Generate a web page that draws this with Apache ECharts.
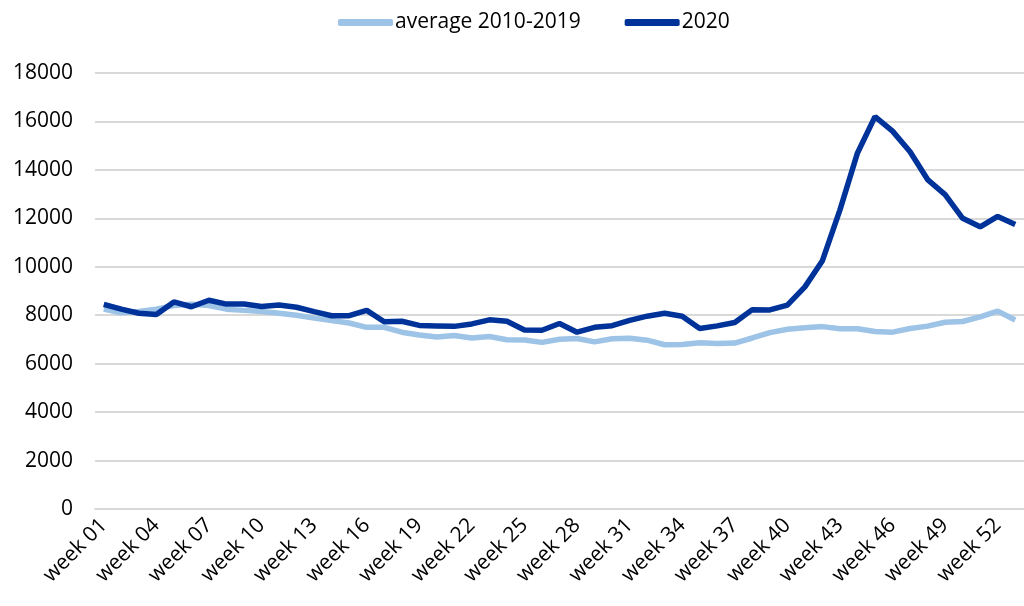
<!DOCTYPE html>
<html>
<head>
<meta charset="utf-8">
<script src="https://cdn.jsdelivr.net/npm/echarts@6/dist/echarts.min.js"></script>
<style>
html,body{margin:0;padding:0;background:#fff;}
#chart{width:1024px;height:606px;}
</style>
</head>
<body>
<div id="chart"></div>
<script>
const weeks = ["week 01","week 02","week 03","week 04","week 05","week 06","week 07","week 08","week 09","week 10",
"week 11","week 12","week 13","week 14","week 15","week 16","week 17","week 18","week 19","week 20",
"week 21","week 22","week 23","week 24","week 25","week 26","week 27","week 28","week 29","week 30",
"week 31","week 32","week 33","week 34","week 35","week 36","week 37","week 38","week 39","week 40",
"week 41","week 42","week 43","week 44","week 45","week 46","week 47","week 48","week 49","week 50",
"week 51","week 52","week 53"];
const average20102019 = [8250,8100,8150,8250,8400,8450,8400,8250,8200,8150,
8080,8000,7880,7780,7680,7500,7500,7300,7180,7100,
7160,7060,7120,6990,6980,6880,7010,7040,6900,7030,
7050,6970,6780,6790,6860,6830,6850,7060,7280,7420,
7480,7530,7440,7440,7330,7300,7450,7550,7710,7740,
7930,8170,7800];
const values2020 = [8450,8250,8080,8030,8550,8350,8620,8460,8460,8360,
8420,8330,8150,7980,7980,8200,7730,7750,7580,7560,
7540,7640,7810,7750,7390,7380,7660,7300,7500,7570,
7790,7960,8080,7960,7450,7560,7700,8230,8220,8420,
9170,10250,12350,14700,16200,15600,14750,13600,12980,12000,
11650,12080,11750];
const seriesNames = ["average 2010-2019","2020"];
const yTicks = {min:0, max:18000, interval:2000};

const font = "'Open Sans', 'Noto Sans', sans-serif";
const chart = echarts.init(document.getElementById('chart'));
chart.setOption({
  animation:false,
  backgroundColor:'#fff',
  color:['#9DC3E6','#003399'],
  legend:{
    top:7, left:333,
    itemWidth:55, itemHeight:7, itemGap:44,
    icon:'roundRect',
    textStyle:{fontFamily:font, fontSize:21, color:'#000', padding:[0,0,0,-3]},
    data:seriesNames
  },
  grid:{left:95, right:-10, top:73, bottom:97, containLabel:false},
  xAxis:{
    type:'category', data:weeks, boundaryGap:true,
    axisLine:{show:true, lineStyle:{color:'#d9d9d9', width:2}},
    axisTick:{show:false},
    axisLabel:{interval:2, rotate:45, fontFamily:font, fontSize:21, color:'#000', margin:13}
  },
  yAxis:{
    type:'value', min:yTicks.min, max:yTicks.max, interval:yTicks.interval,
    axisLine:{show:false}, axisTick:{show:false},
    splitLine:{lineStyle:{color:'#d9d9d9', width:2}},
    axisLabel:{fontFamily:font, fontSize:21, color:'#000', margin:22, formatter:function(v){return String(v);}}
  },
  series:[
    {name:seriesNames[0], type:'line', data:average20102019, symbol:'none', lineStyle:{width:5.5, color:'#9DC3E6'}, z:2},
    {name:seriesNames[1], type:'line', data:values2020, symbol:'none', lineStyle:{width:5.5, color:'#003399'}, z:3}
  ]
});
</script>
</body>
</html>
